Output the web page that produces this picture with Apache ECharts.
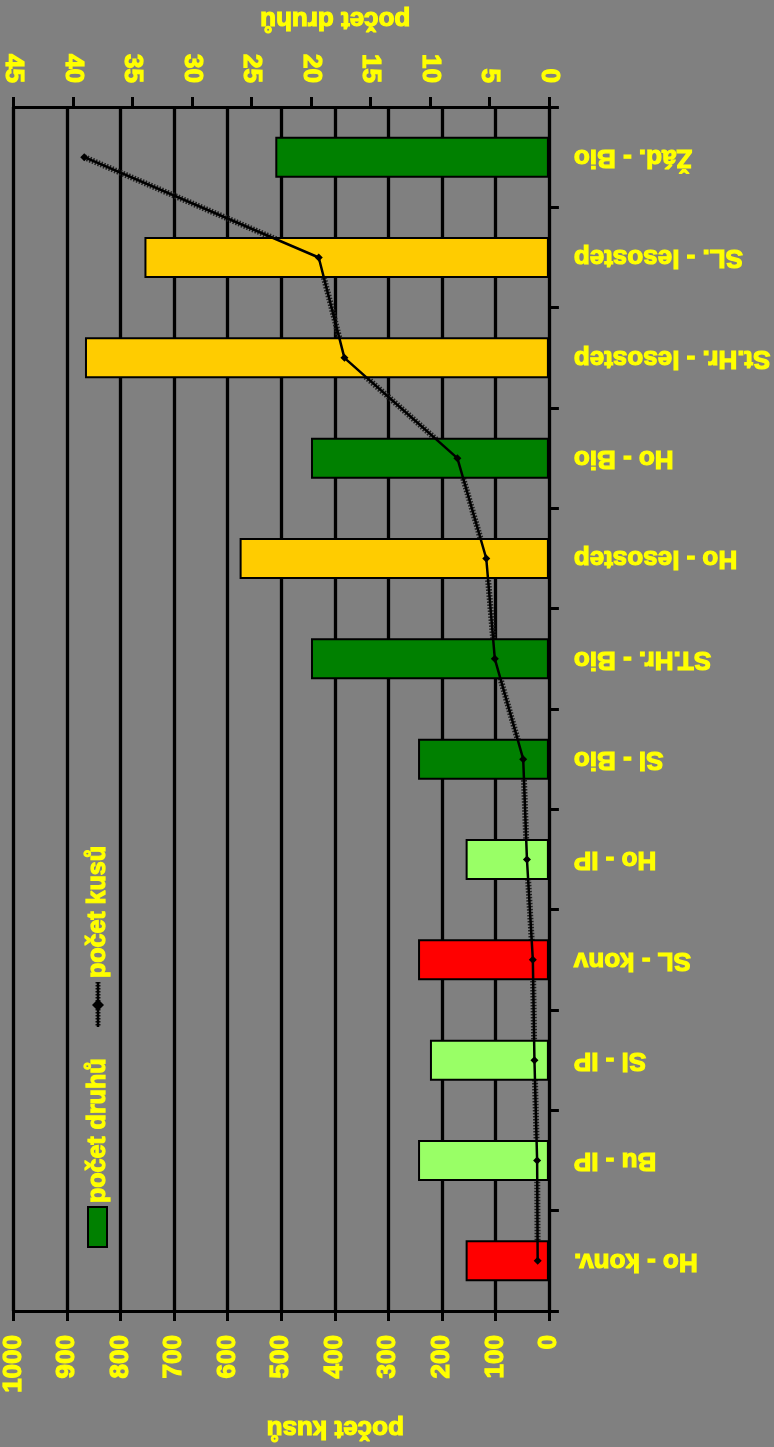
<!DOCTYPE html>
<html>
<head>
<meta charset="utf-8">
<script src="https://cdn.jsdelivr.net/npm/echarts@6/dist/echarts.min.js"></script>
<style>
html,body{margin:0;padding:0;background:#808080;}
#chart{width:774px;height:1447px;}
</style>
</head>
<body>
<div id="chart"></div>
<script>
// ---- data ----
const categories = ['Žád. - Bio','SL. - lesostep','St.Hr. - lesostep','Ho - Bio','Ho - lesostep','ST.Hr. - Bio','Sl - Bio','Ho - IP','SL - konv','Sl - IP','Bu - IP','Ho - konv.'];
const speciesCounts = [23, 34, 39, 20, 26, 20, 11, 7, 11, 10, 11, 7];          // počet druhů (bars, top axis)
const individualCounts = [868, 430, 382, 171, 117, 101, 48, 41, 30, 27, 22, 21]; // počet kusů (line, bottom axis)
const kusyTicks = [0, 1000, 100];   // min, max, interval
const druhyTicks = [0, 45, 5];      // min, max, interval

const YELLOW = '#FFFF00';
const FONT = 'Liberation Sans, Arial, sans-serif';

function colorFor(name){
  if (/lesostep/.test(name)) return '#FFCC00';
  if (/konv/.test(name)) return '#FF0000';
  if (/IP/.test(name)) return '#99FF66';
  return '#008000';
}

const labelStyle = {color: YELLOW, fontSize: 26, fontWeight: 'bold', fontFamily: FONT,
  textBorderColor: YELLOW, textBorderWidth: 1.2};

const chart = echarts.init(document.getElementById('chart'));
chart.setOption({
  backgroundColor: '#808080',
  animation: false,
  grid: {left: 12, right: 223, top: 107, bottom: 136, containLabel: false},
  xAxis: [
    {
      type: 'value', position: 'bottom', inverse: true,
      min: kusyTicks[0], max: kusyTicks[1], interval: kusyTicks[2],
      name: 'počet kusů', nameLocation: 'middle', nameGap: 104, nameRotate: 180,
      nameTextStyle: Object.assign({}, labelStyle, {padding: [0, 108, 0, 0]}),
      axisLine: {show: true, lineStyle: {color: '#000', width: 3}},
      axisTick: {show: true, length: 10, lineStyle: {color: '#000', width: 3}},
      axisLabel: Object.assign({rotate: 90, margin: 24, hideOverlap: false, formatter: v => String(v)}, labelStyle),
      splitLine: {show: true, lineStyle: {color: '#000', width: 3.3}}
    },
    {
      type: 'value', position: 'top', inverse: true,
      min: druhyTicks[0], max: druhyTicks[1], interval: druhyTicks[2],
      name: 'počet druhů', nameLocation: 'middle', nameGap: 75, nameRotate: 180,
      nameTextStyle: Object.assign({}, labelStyle, {padding: [0, 108, 0, 0]}),
      axisLine: {show: true, lineStyle: {color: '#000', width: 3}},
      axisTick: {show: true, length: 10, lineStyle: {color: '#000', width: 3}},
      axisLabel: Object.assign({rotate: 90, margin: 24, hideOverlap: false, formatter: v => String(v)}, labelStyle),
      splitLine: {show: false}
    }
  ],
  yAxis: {
    type: 'category', data: categories, inverse: true, position: 'right',
    axisLine: {show: true, lineStyle: {color: '#000', width: 3}},
    axisTick: {show: true, length: 10, lineStyle: {color: '#000', width: 3}},
    axisLabel: Object.assign({rotate: 180, align: 'right', verticalAlign: 'middle', margin: 25, interval: 0}, labelStyle),
    splitLine: {show: false}
  },
  series: [
    {
      name: 'počet kusů (stín)', type: 'line', xAxisIndex: 0, data: individualCounts,
      z: 1, symbol: 'none', silent: true,
      lineStyle: {color: '#1e1e1e', width: 6, type: [1.5, 1.5]}
    },
    {
      name: 'počet druhů', type: 'bar', xAxisIndex: 1, data: speciesCounts.map((v, i) => ({
        value: v, itemStyle: {color: colorFor(categories[i])}
      })),
      barWidth: 41, z: 3,
      itemStyle: {borderColor: '#000', borderWidth: 2}
    },
    {
      name: 'počet kusů', type: 'line', xAxisIndex: 0, data: individualCounts,
      z: 4, symbol: 'diamond', symbolSize: 8,
      itemStyle: {color: '#000'},
      lineStyle: {color: '#000', width: 2.5}
    }
  ],
  graphic: [
    {type: 'rect', shape: {x: 88, y: 1207, width: 19, height: 40},
     style: {fill: '#008000', stroke: '#000', lineWidth: 2}, z: 10},
    {type: 'text', x: 98, y: 1203, rotation: Math.PI / 2, z: 10,
     style: {text: 'počet druhů', fill: YELLOW, stroke: YELLOW, lineWidth: 1.2,
       font: 'bold 25px ' + FONT, align: 'left', verticalAlign: 'middle'}},
    {type: 'line', shape: {x1: 98, y1: 982, x2: 98, y2: 1027},
     style: {stroke: '#111', lineWidth: 5, lineDash: [1.5, 1.5]}, z: 10},
    {type: 'line', shape: {x1: 98, y1: 982, x2: 98, y2: 1027},
     style: {stroke: '#000', lineWidth: 2.5}, z: 11},
    {type: 'polygon', shape: {points: [[98, 999], [104, 1005], [98, 1011], [92, 1005]]},
     style: {fill: '#000'}, z: 11},
    {type: 'text', x: 98, y: 978, rotation: Math.PI / 2, z: 10,
     style: {text: 'počet kusů', fill: YELLOW, stroke: YELLOW, lineWidth: 1.2,
       font: 'bold 25px ' + FONT, align: 'left', verticalAlign: 'middle'}}
  ]
});
</script>
</body>
</html>
